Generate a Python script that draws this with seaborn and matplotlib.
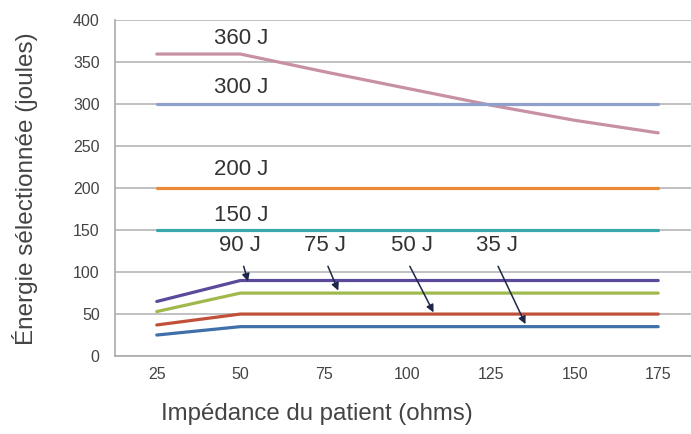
import pandas as pd
import matplotlib
matplotlib.use('Agg')
import matplotlib.pyplot as plt
from matplotlib.ticker import FixedLocator, NullFormatter
import seaborn as sns

# ------------------Data------------------
impedance = [25, 50, 75, 100, 125, 150, 175]
e360 = [360, 360, 339, 319, 299, 281, 266]
e300 = [300, 300, 300, 300, 300, 300, 300]
e200 = [200, 200, 200, 200, 200, 200, 200]
e150 = [150, 150, 150, 150, 150, 150, 150]
e90 = [65, 90, 90, 90, 90, 90, 90]
e75 = [53, 75, 75, 75, 75, 75, 75]
e50 = [37, 50, 50, 50, 50, 50, 50]
e35 = [25, 35, 35, 35, 35, 35, 35]

series_names = ['360 J', '300 J', '200 J', '150 J', '90 J', '75 J', '50 J', '35 J']
series_values = [e360, e300, e200, e150, e90, e75, e50, e35]
colors = ['#c890a3', '#8fa0cc', '#ec8a38', '#3aa8aa', '#5b4a99', '#a0b94c', '#c0503a', '#3f70aa']

# long form table for seaborn
rows = []
for name, vals in zip(series_names, series_values):
    for x, v in zip(impedance, vals):
        rows.append({'Impedance': x, 'Energie': v, 'Serie': name})
df = pd.DataFrame(rows)

sns.set_style('white')
plt.rcParams['font.family'] = ['Liberation Sans', 'DejaVu Sans']

fig = plt.figure(figsize=(6.91, 4.34), dpi=100)
# right edge of the plot is cut off in the original, so the axes runs past the figure
ax = fig.add_axes([0.1664, 0.1797, 0.8466, 0.7731])

sns.lineplot(data=df, x='Impedance', y='Energie', hue='Serie', hue_order=series_names,
             palette=colors, linewidth=2.3, legend=False, ax=ax)

ax.set_xlim(12.5, 187.5)
ax.set_ylim(0, 400)
ax.set_yticks(range(0, 401, 50))
ax.yaxis.grid(True, color='#bcbcbc', linewidth=1.3)
ax.set_axisbelow(True)

# category style x axis: labels on categories, tick marks between them
ax.set_xticks(impedance)
ax.tick_params(axis='x', length=0, pad=8, labelsize=11.5, labelcolor='#444444')
ax.xaxis.set_minor_locator(FixedLocator([12.5 + 25 * i for i in range(8)]))
ax.xaxis.set_minor_formatter(NullFormatter())
ax.tick_params(axis='x', which='minor', length=4, color='#999999', direction='out')
ax.tick_params(axis='y', length=5, color='#bcbcbc', labelsize=11.5, labelcolor='#444444', pad=6)

for side in ['top', 'right']:
    ax.spines[side].set_visible(False)
for side in ['left', 'bottom']:
    ax.spines[side].set_color('#aaaaaa')
    ax.spines[side].set_linewidth(1.2)

ax.set_xlabel('Impédance du patient (ohms)', fontsize=17.3, color='#444444')
ax.set_ylabel('Énergie sélectionnée (joules)', fontsize=17.5, color='#444444')
ax.xaxis.set_label_coords(0.345, -0.14)
ax.yaxis.set_label_coords(-0.131, 0.5)

# labels for the upper series
for name, y in [('360 J', 379), ('300 J', 320), ('200 J', 222), ('150 J', 168)]:
    ax.text(50.4, y, name, fontsize=16, color='#333333', ha='center', va='center')

# labels with arrows for the lower series
arrows = [
    ('90 J', (49.8, 132), (51.0, 107), (52.3, 89)),
    ('75 J', (75.3, 132), (76.2, 107), (79.3, 78)),
    ('50 J', (101.3, 132), (100.7, 107), (107.8, 52)),
    ('35 J', (126.8, 132), (127.1, 107), (135.3, 38)),
]
for name, lab, start, end in arrows:
    ax.text(lab[0], lab[1], name, fontsize=16, color='#333333', ha='center', va='center')
    ax.annotate('', xy=end, xytext=start,
                arrowprops=dict(arrowstyle='-|>', color='#1e2748', lw=1.1,
                                mutation_scale=11, shrinkA=0, shrinkB=0))

fig.savefig('out.png', dpi=100)
